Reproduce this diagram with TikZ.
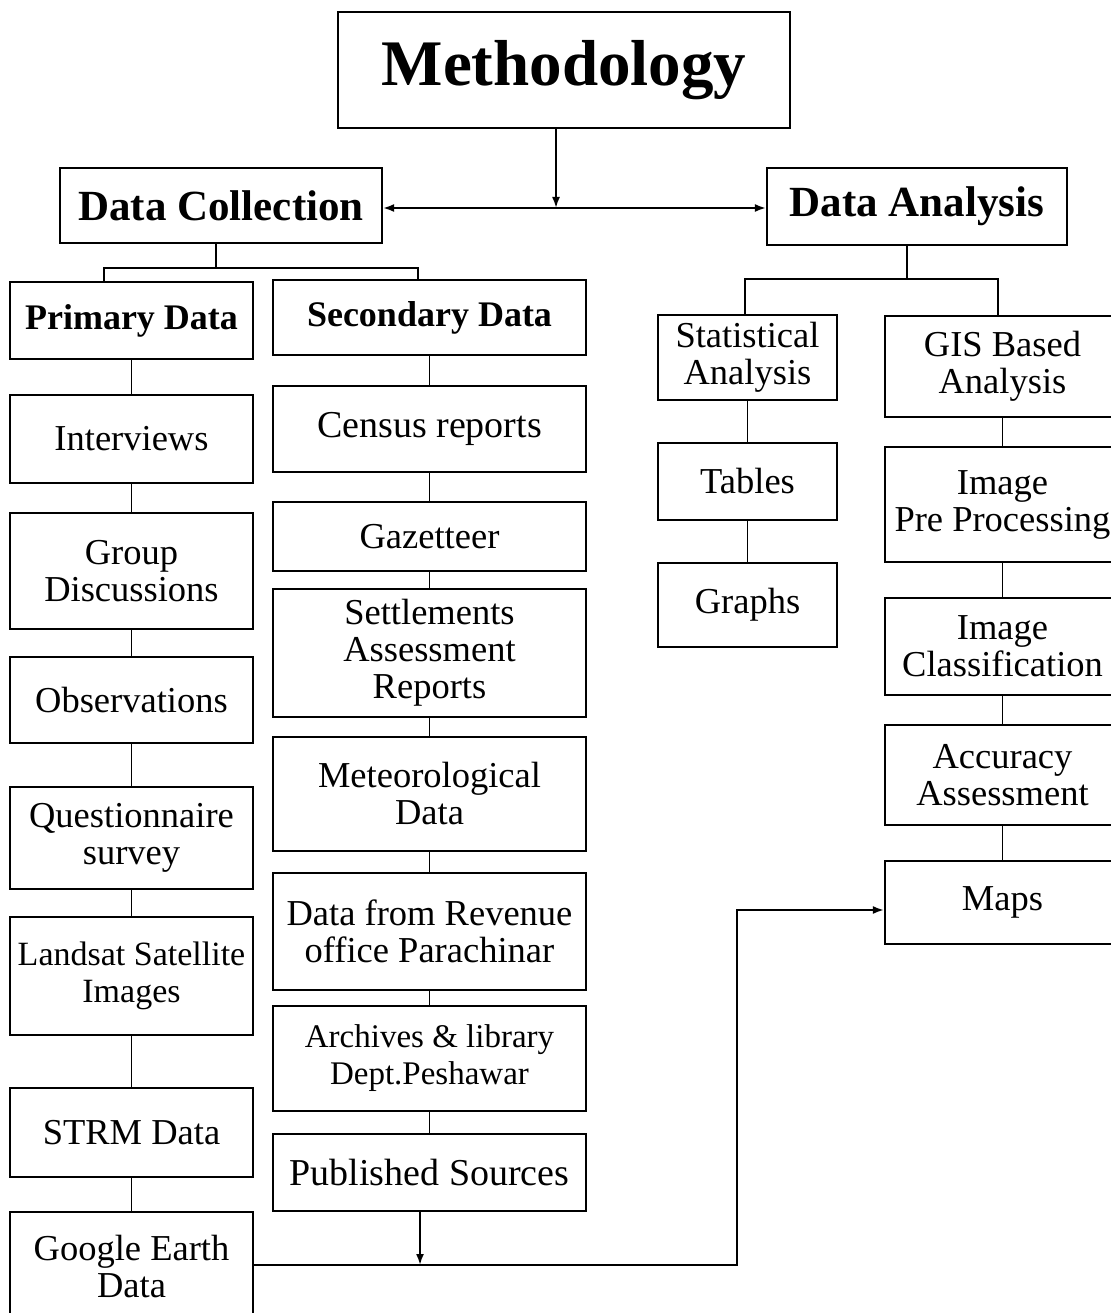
\documentclass[tikz,border=0pt]{standalone}
\usepackage{fontspec}
\setmainfont{Liberation Serif}
\usetikzlibrary{arrows.meta}
\newcommand{\txtsize}{\fontsize{36.5}{37}\selectfont}
\newcommand{\hdrsize}{\fontsize{36}{37}\selectfont\bfseries}
\newcommand{\secsize}{\fontsize{43}{43}\selectfont\bfseries}
\newcommand{\topsize}{\fontsize{65}{65}\selectfont\bfseries}
\tikzset{
  box/.style={draw,line width=2.2pt,inner sep=0pt,align=center,font=\txtsize},
  link/.style={line width=1.9pt},
  arr/.style={line width=1.9pt,-{Latex[length=11pt,width=8pt]}},
  twoarr/.style={line width=1.9pt,{Latex[length=11pt,width=8pt]}-{Latex[length=11pt,width=8pt]}}
}
% box from its corners: name, left, top, right, bottom, options, text
\newcommand{\flowbox}[7]{%
  \node[box,#6,minimum width={(#4-#2)*1pt},minimum height={(#5-#3)*1pt}]
    (#1) at ({(#2+#4)/2},{(#3+#5)/2}) {#7};}
\begin{document}
\begin{tikzpicture}[x=1pt,y=-1pt]
    \useasboundingbox (0,0) rectangle (1110,1313);
    % top part
    \flowbox{meth}{338}{12}{790}{128}{font=\topsize}{Methodology}
    \flowbox{dc}{60}{168}{382}{243}{font=\secsize}{Data Collection}
    \flowbox{da}{767}{168}{1067}{245}{font=\secsize}{Data Analysis}
    % primary part
    \flowbox{pd}{10}{282}{253}{359}{font=\hdrsize}{Primary Data}
    \flowbox{iv}{10}{395}{253}{483}{}{Interviews}
    \flowbox{gd}{10}{513}{253}{629}{}{Group\\Discussions}
    \flowbox{ob}{10}{657}{253}{743}{}{Observations}
    \flowbox{qs}{10}{787}{253}{889}{}{Questionnaire\\survey}
    \flowbox{ls}{10}{917}{253}{1035}{font=\fontsize{34}{37}\selectfont}{Landsat Satellite\\Images}
    \flowbox{st}{10}{1088}{253}{1177}{}{STRM Data}
    \flowbox{ge}{10}{1212}{253}{1320}{}{Google Earth\\Data}
    % secondary part
    \flowbox{sd}{273}{280}{586}{355}{font=\hdrsize}{Secondary Data}
    \flowbox{cr}{273}{386}{586}{472}{font=\fontsize{38}{37}\selectfont}{Census reports}
    \flowbox{gz}{273}{502}{586}{571}{}{Gazetteer}
    \flowbox{sa}{273}{589}{586}{717}{}{Settlements\\Assessment\\Reports}
    \flowbox{md}{273}{737}{586}{851}{}{Meteorological\\Data}
    \flowbox{rv}{273}{873}{586}{990}{}{Data from Revenue\\office Parachinar}
    \flowbox{ar}{273}{1006}{586}{1111}{font=\fontsize{33}{37}\selectfont}{Archives \& library\\Dept.Peshawar}
    \flowbox{ps}{273}{1134}{586}{1211}{font=\fontsize{38}{37}\selectfont}{Published Sources}
    % analysis part
    \flowbox{sta}{658}{315}{837}{400}{}{Statistical\\Analysis}
    \flowbox{tb}{658}{443}{837}{520}{}{Tables}
    \flowbox{gr}{658}{563}{837}{647}{}{Graphs}
    \flowbox{gis}{885}{316}{1120}{417}{}{GIS Based\\Analysis}
    \flowbox{ipp}{885}{447}{1120}{562}{}{Image\\Pre Processing}
    \flowbox{ic}{885}{598}{1120}{695}{}{Image\\Classification}
    \flowbox{aa}{885}{725}{1120}{825}{}{Accuracy\\Assessment}
    \flowbox{mp}{885}{861}{1120}{944}{}{Maps}
    % junction points
    \coordinate (mid) at (556,208);
    \coordinate (dcfork) at (216,268);
    \coordinate (pdj) at (104,268);
    \coordinate (sdj) at (418,268);
    \coordinate (dafork) at (907,279);
    \coordinate (staj) at (745,279);
    \coordinate (gisj) at (998,279);
    \coordinate (join) at (420,1265);
    \coordinate (bend) at (737,1265);
    \coordinate (mpin) at (885,910);
    % connectors
    \draw[arr] (mid |- meth.south) -- (mid);
    \draw[twoarr] (dc.east |- mid) -- (da.west |- mid);
    \draw[link] (dcfork |- dc.south) -- (dcfork);
    \draw[link] (pdj |- pd.north) -- (pdj) -- (sdj) -- (sdj |- sd.north);
    \draw[link] (dafork |- da.south) -- (dafork);
    \draw[link] (staj |- sta.north) -- (staj) -- (gisj) -- (gisj |- gis.north);
    \foreach \a/\b in {pd/iv,iv/gd,gd/ob,ob/qs,qs/ls,ls/st,st/ge,
        sd/cr,cr/gz,gz/sa,sa/md,md/rv,rv/ar,ar/ps,
        sta/tb,tb/gr,gis/ipp,ipp/ic,ic/aa,aa/mp}
      \draw[link] (\a.south) -- (\b.north);
    \draw[arr] (join |- ps.south) -- (join);
    \draw[arr] (ge.east |- join) -- (bend) -- (bend |- mpin) -- (mp.west |- mpin);
\end{tikzpicture}
\end{document}
